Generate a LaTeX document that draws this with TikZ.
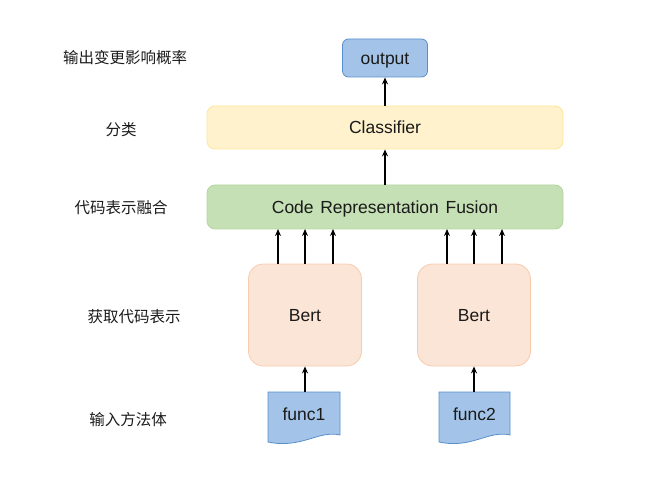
\documentclass[tikz,border=0pt]{standalone}
\usepackage{fontspec}
\setmainfont{Liberation Sans}
\newfontfamily\cjk{Noto Sans CJK SC}
\usetikzlibrary{arrows.meta}
\definecolor{outfill}{HTML}{A3C4E8}
\definecolor{outdraw}{HTML}{5B8FCB}
\definecolor{clsfill}{HTML}{FFF2CC}
\definecolor{clsdraw}{HTML}{FFE599}
\definecolor{fusfill}{HTML}{C5E0B4}
\definecolor{fusdraw}{HTML}{B4D69E}
\definecolor{bertfill}{HTML}{FBE5D6}
\definecolor{bertdraw}{HTML}{F8CBAD}
\definecolor{txt}{HTML}{1A1A1A}
\tikzset{
  box/.style={draw, line width=0.8pt, inner sep=0pt, text=txt,
    text height=12.4pt, text depth=0pt,
    font=\fontsize{17.5}{20}\selectfont},
  outbox/.style={box, fill=outfill, draw=outdraw, rounded corners=6pt},
  clsbox/.style={box, fill=clsfill, draw=clsdraw, rounded corners=8pt},
  fusbox/.style={box, fill=fusfill, draw=fusdraw, rounded corners=8pt},
  bertbox/.style={box, fill=bertfill, draw=bertdraw, rounded corners=15pt},
  doclabel/.style={text=txt, font=\fontsize{17.5}{20}\selectfont, inner sep=0pt,
    text height=12.4pt, text depth=0pt},
  sidelabel/.style={text=txt, font=\cjk\fontsize{15.5}{18}\selectfont, inner sep=0pt},
  arr/.style={-{Stealth[length=7pt,width=6pt]}, line width=1.4pt, black},
  docshape/.style={fill=outfill, draw=outdraw, line width=0.8pt},
}
\begin{document}
\begin{tikzpicture}[x=1pt,y=-1pt]
\useasboundingbox (0,0) rectangle (656,497);
% boxes
\node[outbox, minimum width=85pt, minimum height=38pt] (out) at (385,58) {output};
\node[clsbox, minimum width=356pt, minimum height=43pt] (cls) at (385,127.5) {Classifier};
\node[fusbox, minimum width=356pt, minimum height=44pt] (fus) at (385,207) {Code\hspace{0.1em} Representation\hspace{0.1em} Fusion};
\node[bertbox, minimum width=113pt, minimum height=102pt] (b1) at (305,315) {Bert};
\node[bertbox, minimum width=113pt, minimum height=102pt] (b2) at (474,315) {Bert};
% documents
\draw[docshape] (268,392) -- (340,392) -- (340,435) .. controls (318,430) and (302,449) .. (268,442) -- cycle;
\draw[docshape] (439,392) -- (510,392) -- (510,435) .. controls (488,430) and (472,449) .. (439,442) -- cycle;
\node[doclabel] (f1) at (304,414) {func1};
\node[doclabel] (f2) at (474.5,414) {func2};
\coordinate (f1top) at (305,392);
\coordinate (f2top) at (474,392);
% side labels
\node[sidelabel] (l1) at (125,58) {输出变更影响概率};
\node[sidelabel] (l2) at (121,130) {分类};
\node[sidelabel] (l3) at (121,208) {代码表示融合};
\node[sidelabel] (l4) at (134,317) {获取代码表示};
\node[sidelabel] (l5) at (128,420) {输入方法体};
% arrows
\draw[arr] (cls.north -| out.south) -- (out.south);
\draw[arr] (fus.north) -- (cls.south);
\foreach \x in {278,305,333}{
  \draw[arr] (\x,264) -- (\x,229);
}
\foreach \x in {447,474,502}{
  \draw[arr] (\x,264) -- (\x,229);
}
\draw[arr] (f1top) -- (b1.south);
\draw[arr] (f2top) -- (b2.south);
\end{tikzpicture}
\end{document}
